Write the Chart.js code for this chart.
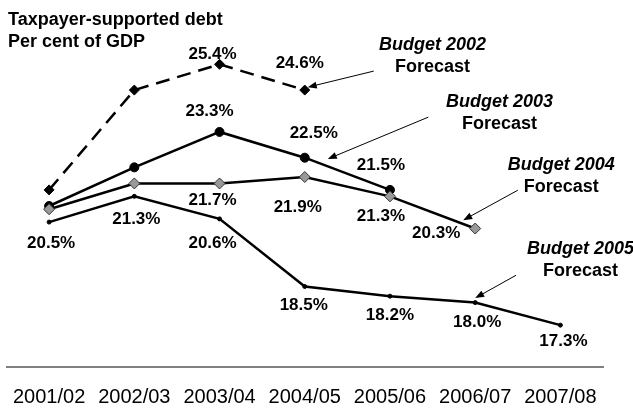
<!DOCTYPE html>
<html>
<head>
<meta charset="utf-8">
<script src="https://cdn.jsdelivr.net/npm/chart.js@4.4.1/dist/chart.umd.min.js"></script>
<style>
html,body{margin:0;padding:0;background:#fff;}
#wrap{width:633px;height:410px;position:relative;}
</style>
</head>
<body>
<div id="wrap"><canvas id="debtChart"></canvas></div>
<script>
var years = ['2001/02','2002/03','2003/04','2004/05','2005/06','2006/07','2007/08'];
var budget2002 = [21.5, 24.6, 25.4, 24.6, null, null, null];
var budget2003 = [21.0, 22.2, 23.3, 22.5, 21.5, null, null];
var budget2004 = [20.9, 21.7, 21.7, 21.9, 21.3, 20.3, null];
var budget2005 = [20.5, 21.3, 20.6, 18.5, 18.2, 18.0, 17.3];
var titleLines = ['Taxpayer-supported debt', 'Per cent of GDP'];
var seriesNames = ['Budget 2002', 'Budget 2003', 'Budget 2004', 'Budget 2005'];

var FONT = "'Liberation Sans', Arial, Helvetica, sans-serif";

// where each value label sits, relative to its point (null = no label)
var labelOffsets = [
  [null, null, [-7,-10], [-5,-27], null, null, null],
  [null, null, [-10,-21], [9,-24], [-9,-25], null, null],
  [null, null, [-7,17], [-7,30], [-9,20], [-39,5], null],
  [[2,21], [2,23], [-7,24], [-1,19], [0,19], [2,20], [3,16]]
];

// callouts in data coordinates: [category index, value]
var callouts = [
  { text:[4.50, 26.0],  tail:[3.81, 25.19], tip:[3.035, 24.69] },
  { text:[5.285, 24.23], tail:[4.45, 23.76], tip:[3.27, 22.46] },
  { text:[6.01, 22.27], tail:[5.50, 21.49], tip:[4.86, 20.56] },
  { text:[6.235, 19.66], tail:[5.48, 18.85], tip:[5.00, 18.14] }
];

function arrow(ctx, x1, y1, x2, y2){
  var a = Math.atan2(y2 - y1, x2 - x1), L = 9, W = 3.5;
  ctx.beginPath();
  ctx.moveTo(x1, y1);
  ctx.lineTo(x2 - Math.cos(a)*L*0.8, y2 - Math.sin(a)*L*0.8);
  ctx.stroke();
  ctx.beginPath();
  ctx.moveTo(x2, y2);
  ctx.lineTo(x2 - Math.cos(a)*L - Math.sin(a)*W, y2 - Math.sin(a)*L + Math.cos(a)*W);
  ctx.lineTo(x2 - Math.cos(a)*L + Math.sin(a)*W, y2 - Math.sin(a)*L - Math.cos(a)*W);
  ctx.closePath();
  ctx.fill();
}

var extras = {
  id: 'extras',
  afterDatasetsDraw: function(chart){
    var ctx = chart.ctx, xs = chart.scales.x, ys = chart.scales.y;
    ctx.save();
    ctx.fillStyle = '#000';
    ctx.strokeStyle = '#000';

    // title
    ctx.font = 'bold 18px ' + FONT;
    ctx.textAlign = 'left';
    ctx.textBaseline = 'alphabetic';
    ctx.fillText(titleLines[0], 8, 25);
    ctx.fillText(titleLines[1], 8, 47);

    // value labels
    ctx.font = 'bold 17px ' + FONT;
    ctx.textAlign = 'center';
    ctx.textBaseline = 'middle';
    chart.data.datasets.forEach(function(ds, i){
      var meta = chart.getDatasetMeta(i);
      var offs = labelOffsets[ds.seriesIndex];
      ds.data.forEach(function(v, j){
        if (v === null || !offs[j]) return;
        var el = meta.data[j];
        ctx.fillText(v.toFixed(1) + '%', el.x + offs[j][0], el.y + offs[j][1]);
      });
    });

    // callouts
    ctx.lineWidth = 1;
    callouts.forEach(function(c, i){
      var tx = xs.getPixelForValue(c.text[0]), ty = ys.getPixelForValue(c.text[1]);
      ctx.font = 'italic bold 18px ' + FONT;
      ctx.fillText(seriesNames[i], tx, ty);
      ctx.font = 'bold 18px ' + FONT;
      ctx.fillText('Forecast', tx, ty + 22);
      arrow(ctx, xs.getPixelForValue(c.tail[0]), ys.getPixelForValue(c.tail[1]),
                 xs.getPixelForValue(c.tip[0]), ys.getPixelForValue(c.tip[1]));
    });
    ctx.restore();
  }
};

new Chart(document.getElementById('debtChart'), {
  type: 'line',
  data: {
    labels: years,
    datasets: [
      { label: seriesNames[3], seriesIndex: 3, data: budget2005, borderColor: '#000', borderWidth: 2.5,
        pointStyle: 'circle', pointRadius: 2, pointBackgroundColor: '#000', pointBorderColor: '#000', pointBorderWidth: 1 },
      { label: seriesNames[2], seriesIndex: 2, data: budget2004, borderColor: '#000', borderWidth: 2.5,
        pointStyle: 'rectRot', pointRadius: 5.5, pointBackgroundColor: '#999', pointBorderColor: '#333', pointBorderWidth: 1 },
      { label: seriesNames[1], seriesIndex: 1, data: budget2003, borderColor: '#000', borderWidth: 2.5,
        pointStyle: 'circle', pointRadius: 4.5, pointBackgroundColor: '#000', pointBorderColor: '#000', pointBorderWidth: 1 },
      { label: seriesNames[0], seriesIndex: 0, data: budget2002, borderColor: '#000', borderWidth: 2.5, borderDash: [14, 8],
        pointStyle: 'rectRot', pointRadius: 5, pointBackgroundColor: '#000', pointBorderColor: '#000', pointBorderWidth: 1 }
    ]
  },
  options: {
    responsive: true,
    maintainAspectRatio: false,
    animation: false,
    events: [],
    layout: { padding: { left: 5, right: 30, top: 45, bottom: 0 } },
    plugins: { legend: { display: false }, tooltip: { enabled: false } },
    elements: { line: { tension: 0 } },
    scales: {
      x: {
        offset: true,
        grid: { display: false, drawTicks: true, tickLength: 17 },
        border: { display: true, color: '#808080', width: 2 },
        ticks: { color: '#000', font: { family: FONT, size: 20, lineHeight: 1 }, padding: 3, maxRotation: 0, autoSkip: false }
      },
      y: { display: false, min: 16, max: 26 }
    }
  },
  plugins: [extras]
});
</script>
</body>
</html>
